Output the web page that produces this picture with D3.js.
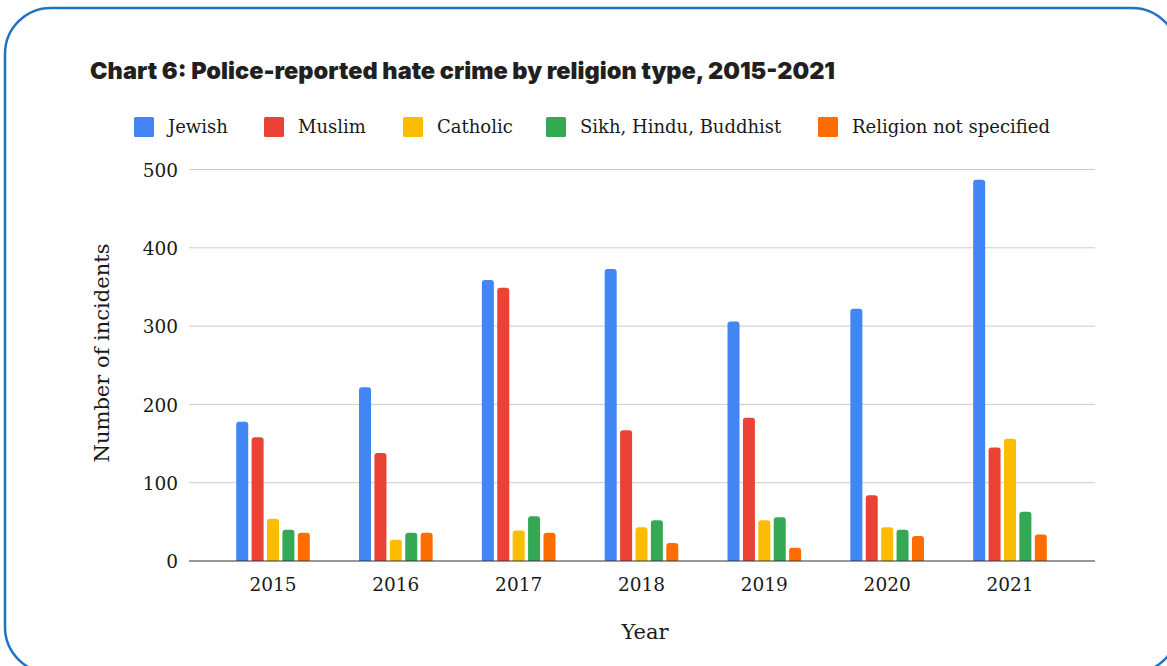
<!DOCTYPE html>
<html>
<head>
<meta charset="utf-8">
<script src="https://cdn.jsdelivr.net/npm/d3@7"></script>
<style>
  html, body { margin: 0; padding: 0; background: #fff; }
  svg { display: block; }
</style>
</head>
<body>
<svg id="chart" width="1167" height="666"></svg>
<script>
// Police-reported hate crime by religion type, 2015-2021
const years = ["2015", "2016", "2017", "2018", "2019", "2020", "2021"];
const seriesNames = ["Jewish", "Muslim", "Catholic", "Sikh, Hindu, Buddhist", "Religion not specified"];
const seriesColors = ["#4285F4", "#EA4335", "#FBBC04", "#34A853", "#FF6D01"];

const jewish    = [178, 222, 359, 373, 306, 322, 487];
const muslim    = [158, 138, 349, 167, 183, 84, 145];
const catholic  = [54, 27, 39, 43, 52, 43, 156];
const sikhHinduBuddhist = [40, 36, 57, 52, 56, 40, 63];
const notSpecified = [36, 36, 36, 23, 17, 32, 34];

const yTicks = [0, 100, 200, 300, 400, 500];

const titleText = "Chart 6: Police-reported hate crime by religion type, 2015-2021";
const yAxisTitle = "Number of incidents";
const xAxisTitle = "Year";

const seriesValues = [jewish, muslim, catholic, sikhHinduBuddhist, notSpecified];

const svg = d3.select("#chart");
const serif = "'DejaVu Serif', Georgia, serif";
const textColor = "#1a1a1a";

// outer rounded frame
svg.append("rect")
  .attr("x", 5).attr("y", 8)
  .attr("width", 1173).attr("height", 665)
  .attr("rx", 46).attr("ry", 46)
  .attr("fill", "#fff")
  .attr("stroke", "#1f74c2")
  .attr("stroke-width", 2.5);

// title
svg.append("text")
  .attr("x", 90).attr("y", 79)
  .attr("font-family", "Inter, 'Open Sans', sans-serif")
  .attr("font-weight", 900)
  .attr("font-size", 23.5)
  .attr("fill", "#231f20")
  .attr("textLength", 745)
  .attr("lengthAdjust", "spacingAndGlyphs")
  .text(titleText);

// scales
const plotTop = 169.5, plotBottom = 561;
const gridLeft = 189, gridRight = 1095;
const y = d3.scaleLinear().domain([0, 500]).range([plotBottom, plotTop]);

const x0 = d3.scaleBand().domain(years).range([211.6, 1071.4])
  .paddingInner(0.373).paddingOuter(0.1865);
const x1 = d3.scaleBand().domain(seriesNames).range([0, x0.bandwidth()])
  .paddingInner(0.22).paddingOuter(0.11);

// gridlines
const grid = svg.append("g");
grid.selectAll("line").data(yTicks.filter(d => d > 0)).join("line")
  .attr("x1", gridLeft).attr("x2", gridRight)
  .attr("y1", d => y(d)).attr("y2", d => y(d))
  .attr("stroke", "#cccccc").attr("stroke-width", 1);

// y axis labels
const yAxis = d3.axisLeft(y).tickValues(yTicks).tickSize(0).tickPadding(0);
const yg = svg.append("g").attr("transform", `translate(178,0)`).call(yAxis);
yg.select(".domain").remove();
yg.selectAll("text")
  .attr("font-family", serif).attr("font-size", 18.5).attr("fill", textColor)
  .attr("dy", "0.36em");

// bars with rounded tops
function barPath(x, w, yTop, yBase) {
  const r = Math.min(3, w / 2, (yBase - yTop));
  const p = d3.path();
  p.moveTo(x, yBase);
  p.lineTo(x, yTop + r);
  p.quadraticCurveTo(x, yTop, x + r, yTop);
  p.lineTo(x + w - r, yTop);
  p.quadraticCurveTo(x + w, yTop, x + w, yTop + r);
  p.lineTo(x + w, yBase);
  p.closePath();
  return p.toString();
}

const barData = [];
years.forEach((yr, i) => {
  seriesNames.forEach((s, j) => {
    barData.push({ year: yr, series: s, value: seriesValues[j][i], color: seriesColors[j] });
  });
});

svg.append("g").selectAll("path").data(barData).join("path")
  .attr("d", d => barPath(x0(d.year) + x1(d.series), x1.bandwidth(), y(d.value), y(0)))
  .attr("fill", d => d.color);

// baseline
svg.append("line")
  .attr("x1", gridLeft).attr("x2", gridRight)
  .attr("y1", y(0)).attr("y2", y(0))
  .attr("stroke", "#333").attr("stroke-width", 1.2);

// x axis labels
const xAxis = d3.axisBottom(x0).tickSize(0).tickPadding(0);
const xg = svg.append("g").attr("transform", `translate(0,${y(0)})`).call(xAxis);
xg.select(".domain").remove();
xg.selectAll("text")
  .attr("font-family", serif).attr("font-size", 18.5).attr("fill", textColor)
  .attr("dy", null).attr("y", 30);

// axis titles
svg.append("text")
  .attr("transform", "translate(109,353) rotate(-90)")
  .attr("text-anchor", "middle")
  .attr("font-family", serif).attr("font-size", 21).attr("fill", textColor)
  .text(yAxisTitle);

svg.append("text")
  .attr("x", 645).attr("y", 639)
  .attr("text-anchor", "middle")
  .attr("font-family", serif).attr("font-size", 21).attr("fill", textColor)
  .text(xAxisTitle);

// legend
const legendX = [134, 264, 403, 546, 818];
const legend = svg.append("g");
seriesNames.forEach((s, j) => {
  const g = legend.append("g").attr("transform", `translate(${legendX[j]},117)`);
  g.append("rect").attr("width", 20).attr("height", 20).attr("rx", 1.5)
    .attr("fill", seriesColors[j]);
  g.append("text")
    .attr("x", 34).attr("y", 16)
    .attr("font-family", serif).attr("font-size", 18).attr("fill", textColor)
    .text(s);
});
</script>
</body>
</html>
